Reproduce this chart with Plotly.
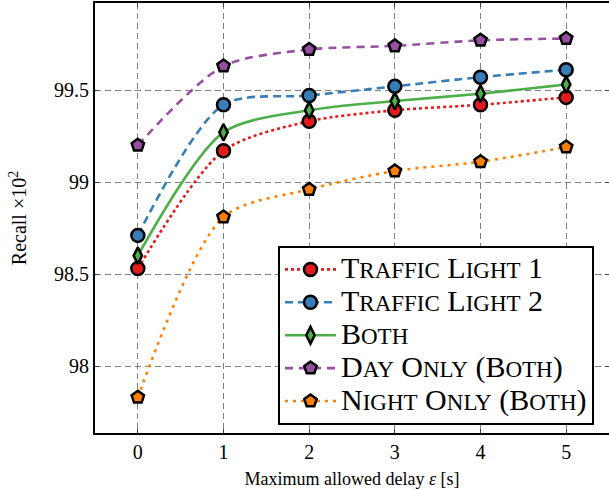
import plotly.graph_objects as go

delays = [0, 1, 2, 3, 4, 5]
traffic_light_1 = [98.53, 99.17, 99.33, 99.39, 99.42, 99.46]
traffic_light_2 = [98.71, 99.42, 99.47, 99.52, 99.57, 99.61]
both = [98.60, 99.27, 99.39, 99.44, 99.48, 99.53]
day_only = [99.20, 99.63, 99.72, 99.74, 99.77, 99.78]
night_only = [97.83, 98.81, 98.96, 99.06, 99.11, 99.19]

BIG, SMALL = 30, 23

def sc(text):
    # small-caps emulation: first letters big, rest as smaller capitals
    out = []
    for word in text.split(" "):
        lead = ""
        while word and not word[0].isalpha():
            lead += word[0]
            word = word[1:]
        if lead:
            out.append(f"<span style='font-size:{BIG}px'>{lead}</span>")
        if word:
            out.append(f"<span style='font-size:{BIG}px'>{word[0]}</span>")
            rest = word[1:]
            trail = ""
            while rest and not rest[-1].isalpha():
                trail = rest[-1] + trail
                rest = rest[:-1]
            if rest:
                out.append(f"<span style='font-size:{SMALL}px'>{rest.upper()}</span>")
            if trail:
                out.append(f"<span style='font-size:{BIG}px'>{trail}</span>")
        out.append(f"<span style='font-size:{BIG}px'> </span>")
    return "".join(out[:-1])

labels = ["Traffic Light 1", "Traffic Light 2", "Both", "Day Only (Both)", "Night Only (Both)"]
names = [sc(t) for t in labels]

series = [traffic_light_1, traffic_light_2, both, day_only, night_only]
colors = ["#e41a1c", "#377eb8", "#4daf4a", "#984ea3", "#ff7f00"]
dashes = ["3px,3px", "8px,5px", "solid", "8px,6px", "3px,5px"]
symbols = ["circle", "circle", "diamond-tall", "pentagon", "pentagon"]
sizes = [13, 13, 12, 13, 13]

fig = go.Figure()
for vals, name, c, d, s, sz in zip(series, names, colors, dashes, symbols, sizes):
    fig.add_trace(go.Scatter(
        x=delays, y=vals, name=name, mode="lines+markers",
        line=dict(color=c, width=2.6, dash=d, shape="spline", smoothing=0.8),
        marker=dict(symbol=s, size=sz, color=c, line=dict(color="black", width=2.5)),
    ))

font = "Liberation Serif"
fig.update_layout(
    width=609, height=490,
    margin=dict(l=95, r=0, t=3, b=57, autoexpand=False),
    plot_bgcolor="white", paper_bgcolor="white",
    font=dict(family=font, color="black", size=20),
    showlegend=True,
    legend=dict(
        x=0.356, y=0.435, xanchor="left", yanchor="top",
        bgcolor="white", bordercolor="black", borderwidth=2,
        font=dict(family=font, size=23, color="black"),
        tracegroupgap=0, itemwidth=51,
    ),
    xaxis=dict(
        range=[-0.5, 5.5], tickvals=delays, ticktext=[str(v) for v in delays],
        showgrid=True, gridcolor="#808080", griddash="6px,4px", gridwidth=1,
        showline=True, linecolor="black", linewidth=2, mirror="allticks",
        zeroline=False, ticks="inside", ticklen=4, tickcolor="#404040", tickwidth=1,
        tickfont=dict(family=font, size=20), automargin=False,
        title=dict(text="Maximum allowed delay <i>ε</i> [s]", font=dict(family=font, size=18), standoff=10),
    ),
    yaxis=dict(
        range=[97.636, 99.973], tickvals=[98, 98.5, 99, 99.5],
        ticktext=["98", "98.5", "99", "99.5"],
        showgrid=True, gridcolor="#808080", griddash="6px,4px", gridwidth=1,
        showline=True, linecolor="black", linewidth=2, mirror="allticks",
        zeroline=False, ticks="inside", ticklen=4, tickcolor="#404040", tickwidth=1,
        tickfont=dict(family=font, size=20), automargin=False,
        title=dict(text="Recall ×10<sup>2</sup>", font=dict(family=font, size=20), standoff=22),
    ),
)
fig.write_html("out.html", config={"displayModeBar": False},
               post_script="document.body.style.margin='0';")
